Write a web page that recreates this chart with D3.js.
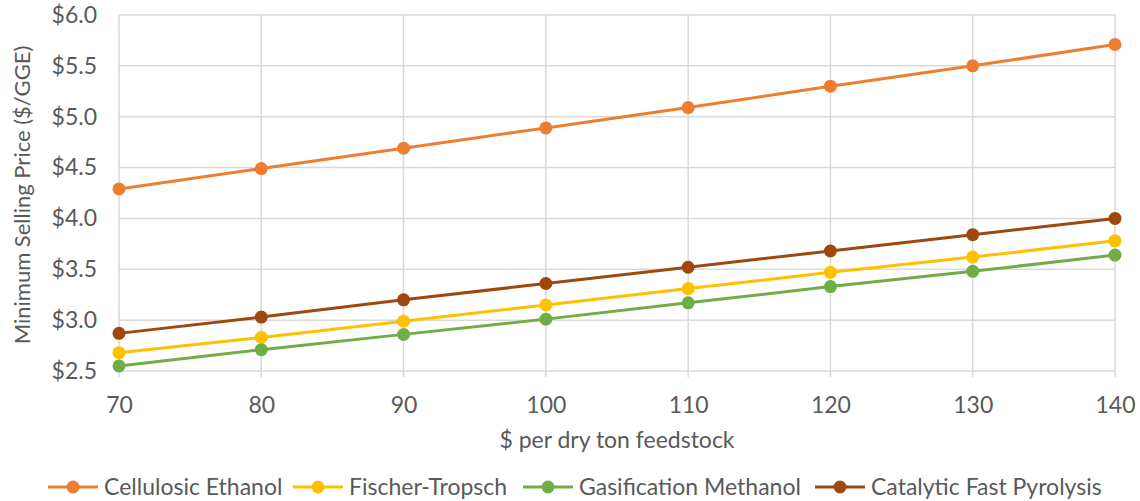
<!DOCTYPE html>
<html><head><meta charset="utf-8">
<script src="https://cdn.jsdelivr.net/npm/d3@7"></script>
<style>body{margin:0;background:#fff;}text{font-family:Lato,"Open Sans",sans-serif;fill:#595959;}</style>
</head><body><svg id="c" width="1140" height="501"></svg>
<script>
const xValues = [70, 80, 90, 100, 110, 120, 130, 140];
const cellulosicEthanol = [4.29, 4.49, 4.69, 4.89, 5.09, 5.30, 5.50, 5.71];
const fischerTropsch = [2.68, 2.83, 2.99, 3.15, 3.31, 3.47, 3.62, 3.78];
const gasificationMethanol = [2.55, 2.71, 2.86, 3.01, 3.17, 3.33, 3.48, 3.64];
const catalyticFastPyrolysis = [2.87, 3.03, 3.20, 3.36, 3.52, 3.68, 3.84, 4.00];
const seriesNames = ["Cellulosic Ethanol", "Fischer-Tropsch", "Gasification Methanol", "Catalytic Fast Pyrolysis"];
const yTicks = [2.5, 3.0, 3.5, 4.0, 4.5, 5.0, 5.5, 6.0];

const series = [
  {name: seriesNames[0], values: cellulosicEthanol, color: "#ED7D31"},
  {name: seriesNames[1], values: fischerTropsch, color: "#FFC000"},
  {name: seriesNames[2], values: gasificationMethanol, color: "#70AD47"},
  {name: seriesNames[3], values: catalyticFastPyrolysis, color: "#9E480E"}
];

const svg = d3.select("#c");
const L = 119, R = 1115, T = 15, B = 371;
const x = d3.scaleLinear().domain([70, 140]).range([L, R]);
const y = d3.scaleLinear().domain([2.5, 6.0]).range([B, T]);

// gridlines
svg.append("g").selectAll("line").data(yTicks).join("line")
  .attr("x1", L).attr("x2", R).attr("y1", d => y(d)).attr("y2", d => y(d))
  .attr("stroke", "#d9d9d9").attr("stroke-width", 1.5);
svg.append("g").selectAll("line").data(xValues).join("line")
  .attr("x1", d => x(d)).attr("x2", d => x(d)).attr("y1", T).attr("y2", B + 6)
  .attr("stroke", "#d9d9d9").attr("stroke-width", 1.5);

// axes labels
const xAxis = d3.axisBottom(x).tickValues(xValues).tickSize(0).tickPadding(26);
const gx = svg.append("g").attr("transform", `translate(0,${B})`).call(xAxis);
gx.select(".domain").remove();
gx.selectAll("text").style("font-size", "23px").attr("fill", "#595959");

const yAxis = d3.axisLeft(y).tickValues(yTicks).tickSize(0).tickPadding(22)
  .tickFormat(d => "$" + d3.format(".1f")(d));
const gy = svg.append("g").attr("transform", `translate(${L},0)`).call(yAxis);
gy.select(".domain").remove();
gy.selectAll("text").style("font-size", "23px").attr("fill", "#595959");

svg.append("text").attr("x", 617).attr("y", 448).attr("text-anchor", "middle")
  .style("font-size", "23px").text("$ per dry ton feedstock");
svg.append("text").attr("transform", `translate(30,${(T + B) / 2 + 2}) rotate(-90)`)
  .attr("text-anchor", "middle").style("font-size", "22px").text("Minimum Selling Price ($/GGE)");

// lines
const line = d3.line().x((d, i) => x(xValues[i])).y(d => y(d));
series.forEach(s => {
  svg.append("path").datum(s.values).attr("d", line).attr("fill", "none")
    .attr("stroke", s.color).attr("stroke-width", 3);
  svg.append("g").selectAll("circle").data(s.values).join("circle")
    .attr("cx", (d, i) => x(xValues[i])).attr("cy", d => y(d)).attr("r", 6.5)
    .attr("fill", s.color);
});

// legend
const legX = [48, 293, 523, 815];
const lg = svg.append("g");
series.forEach((s, i) => {
  const gx0 = legX[i], ly = 487;
  lg.append("line").attr("x1", gx0).attr("x2", gx0 + 50).attr("y1", ly).attr("y2", ly)
    .attr("stroke", s.color).attr("stroke-width", 3);
  lg.append("circle").attr("cx", gx0 + 25).attr("cy", ly).attr("r", 6.5).attr("fill", s.color);
  lg.append("text").attr("x", gx0 + 56).attr("y", ly + 8).style("font-size", "23px").text(s.name);
});
</script></body></html>
